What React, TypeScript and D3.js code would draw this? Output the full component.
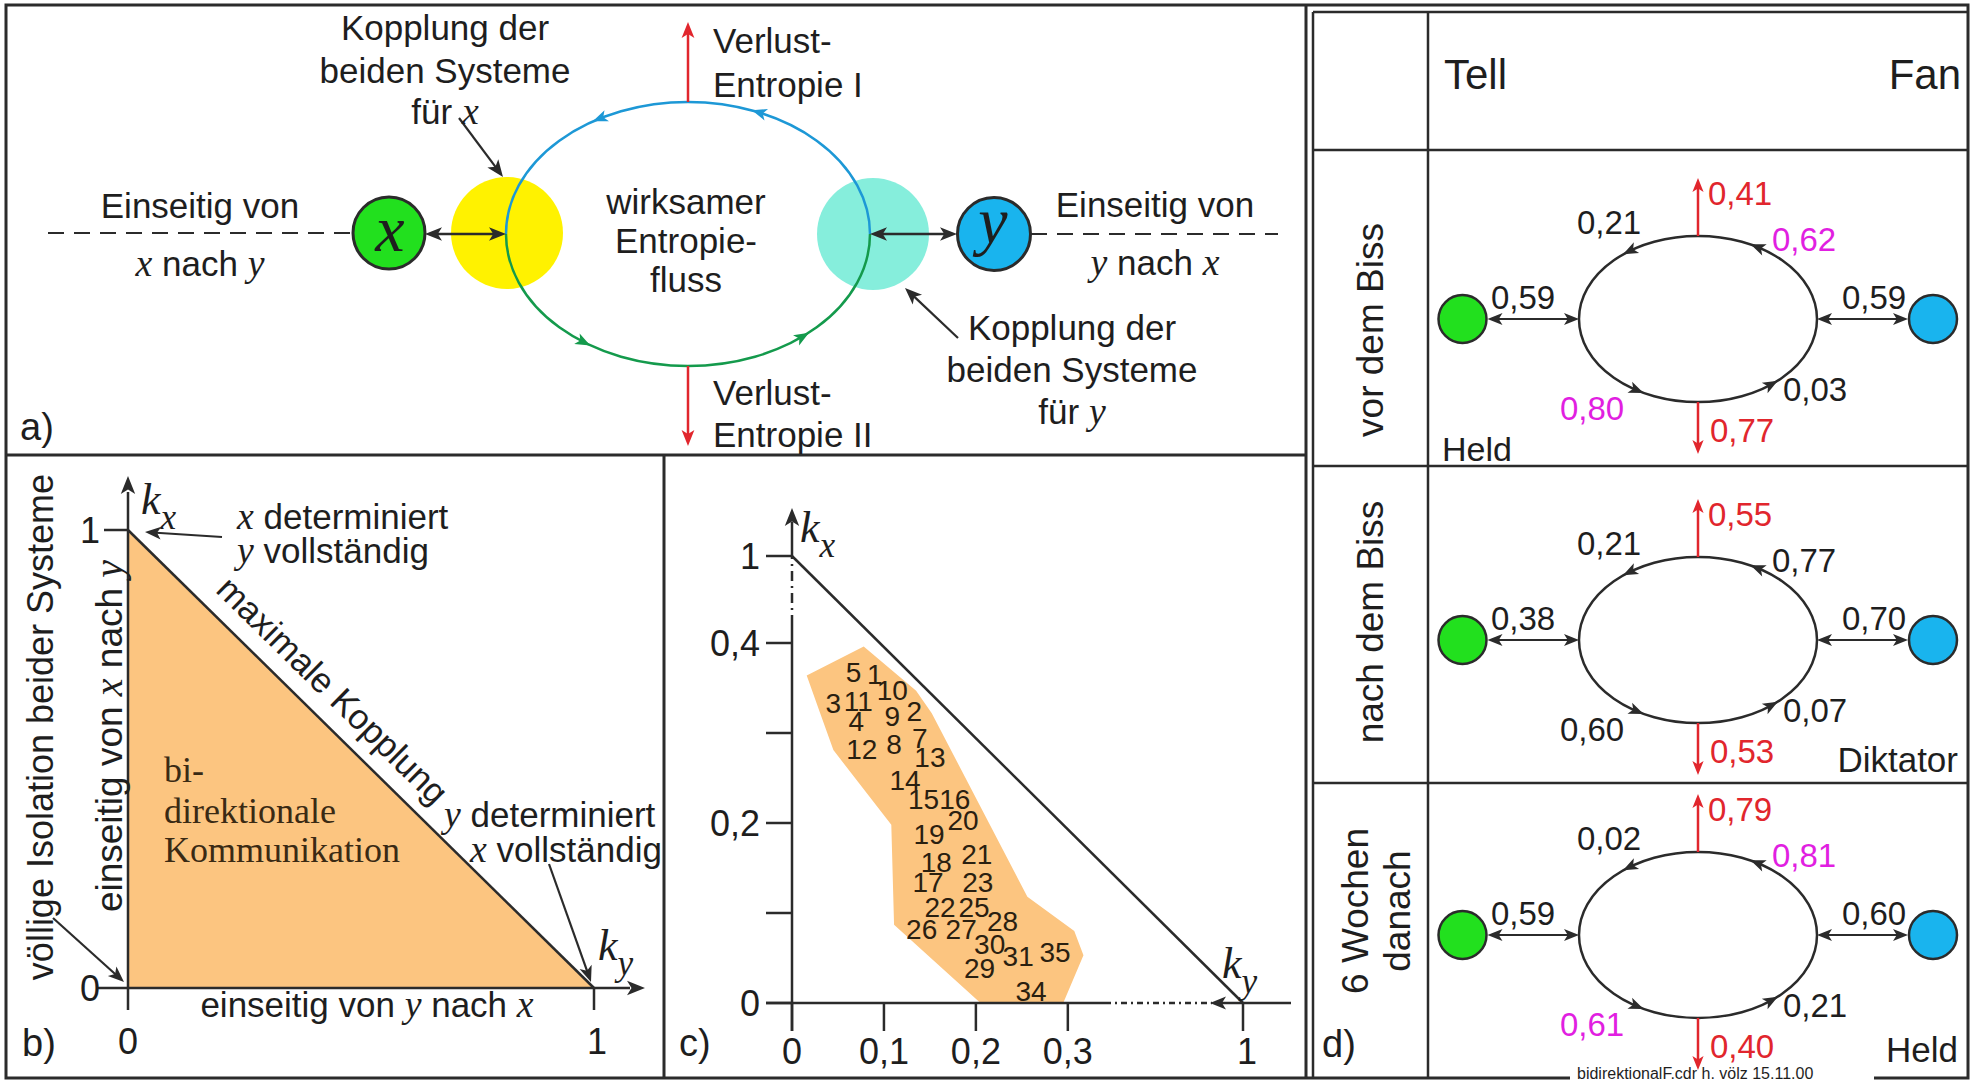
import * as d3 from 'd3';
import { useEffect, useRef } from 'react';

type Sel = d3.Selection<any, unknown, null, undefined>;

const WIDTH = 1973;
const HEIGHT = 1083;
const SANS = '"Liberation Sans", Arial, Helvetica, sans-serif';
const SERIF = '"Liberation Serif", "Times New Roman", serif';
const INK = '#1e1e1e';
const LINE = '#2b2b2b';
const ORANGE = '#fcc580';
const RED = '#e1262d';
const MAGENTA = '#e11fe1';
const GREEN = '#22e01e';
const BLUE = '#19b4ee';
const FS = 35;

// c) measured couples: ky (horizontal) and kx (vertical)
const pointIds = ['5', '1', '10', '3', '11', '9', '2', '4', '12', '8', '7', '13', '14', '15', '16', '20', '19', '21', '18', '17', '23', '22', '25', '28', '26', '27', '30', '31', '35', '29', '34'];
const pointKy = [0.067, 0.09, 0.109, 0.045, 0.072, 0.109, 0.133, 0.07, 0.076, 0.111, 0.139, 0.15, 0.123, 0.143, 0.177, 0.186, 0.149, 0.201, 0.157, 0.148, 0.202, 0.161, 0.198, 0.229, 0.141, 0.184, 0.215, 0.246, 0.286, 0.204, 0.26];
const pointKx = [0.368, 0.366, 0.348, 0.333, 0.336, 0.319, 0.324, 0.313, 0.282, 0.288, 0.294, 0.273, 0.248, 0.227, 0.227, 0.203, 0.188, 0.166, 0.157, 0.134, 0.135, 0.107, 0.107, 0.091, 0.082, 0.082, 0.066, 0.052, 0.057, 0.039, 0.013];

// c) outline of the region holding the measurements
const regionKy = [0.016, 0.078, 0.135, 0.152, 0.256, 0.307, 0.317, 0.295, 0.205, 0.111, 0.108, 0.045, 0.032];
const regionKx = [0.364, 0.396, 0.347, 0.322, 0.118, 0.08, 0.053, 0, 0, 0.087, 0.198, 0.281, 0.318];

const cTicksY = [0, 0.1, 0.2, 0.3, 0.4, 1];
const cLabelsY = [0, 0.2, 0.4, 1];
const cTicksX = [0, 0.1, 0.2, 0.3, 1];

// d) the three phases
const phaseLabels = [['vor dem Biss'], ['nach dem Biss'], ['6 Wochen', 'danach']];
const roleLabels = ['Held', 'Diktator', 'Held'];
const couplingTell = [0.59, 0.38, 0.59];
const couplingFan = [0.59, 0.7, 0.6];
const lossTop = [0.41, 0.55, 0.79];
const lossBottom = [0.77, 0.53, 0.4];
const flowTopLeft = [0.21, 0.21, 0.02];
const flowTopRight = [0.62, 0.77, 0.81];
const flowBottomLeft = [0.8, 0.6, 0.61];
const flowBottomRight = [0.03, 0.07, 0.21];
const highlighted = [true, false, true];

const locale = d3.formatLocale({ decimal: ',', thousands: '.', grouping: [3], currency: ['', ''] });
const fmt2 = locale.format('.2f');
const fmtTick = locale.format('~g');

function head(g: Sel, x: number, y: number, angle: number, size: number, color: string) {
  g.append('path')
    .attr('d', `M0,0L${-size},${-size * 0.4}L${-size * 0.75},0L${-size},${size * 0.4}Z`)
    .attr('transform', `translate(${x},${y}) rotate(${angle})`)
    .attr('fill', color);
}

function arrow(g: Sel, x1: number, y1: number, x2: number, y2: number, color = LINE, size = 16, both = false, width = 2.5) {
  const a = Math.atan2(y2 - y1, x2 - x1);
  const back = size * 0.7;
  g.append('line')
    .attr('x1', both ? x1 + Math.cos(a) * back : x1)
    .attr('y1', both ? y1 + Math.sin(a) * back : y1)
    .attr('x2', x2 - Math.cos(a) * back)
    .attr('y2', y2 - Math.sin(a) * back)
    .attr('stroke', color)
    .attr('stroke-width', width);
  head(g, x2, y2, (a * 180) / Math.PI, size, color);
  if (both) head(g, x1, y1, (a * 180) / Math.PI + 180, size, color);
}

function line(g: Sel, x1: number, y1: number, x2: number, y2: number, width = 2.5, dash?: string) {
  const l = g.append('line')
    .attr('x1', x1).attr('y1', y1).attr('x2', x2).attr('y2', y2)
    .attr('stroke', LINE).attr('stroke-width', width);
  if (dash) l.attr('stroke-dasharray', dash);
  return l;
}

type LabelOpts = { size?: number; anchor?: string; color?: string; rotate?: number; serif?: boolean };

// text with $...$ parts set as italic serif variables
function label(g: Sel, x: number, y: number, str: string, opts: LabelOpts = {}) {
  const size = opts.size ?? FS;
  const t = g.append('text')
    .attr('x', x).attr('y', y)
    .attr('font-family', opts.serif ? SERIF : SANS)
    .attr('font-size', size)
    .attr('text-anchor', opts.anchor ?? 'start')
    .attr('fill', opts.color ?? INK);
  if (opts.rotate) t.attr('transform', `rotate(${opts.rotate},${x},${y})`);
  str.split('$').forEach((part, i) => {
    if (!part) return;
    const s = t.append('tspan').text(part);
    if (i % 2 === 1) s.attr('font-family', SERIF).attr('font-style', 'italic').attr('font-size', size * 1.08);
  });
  return t;
}

function kLabel(g: Sel, x: number, y: number, sub: string, size = 44) {
  const t = g.append('text')
    .attr('x', x).attr('y', y)
    .attr('font-family', SERIF).attr('font-style', 'italic')
    .attr('font-size', size).attr('fill', INK);
  t.append('tspan').text('k');
  t.append('tspan').attr('dy', size * 0.35).attr('font-size', size * 0.8).text(sub);
}

function loop(g: Sel, cx: number, cy: number, rx: number, ry: number, top: string, bottom: string, headSize: number, angles: number[]) {
  g.append('path')
    .attr('d', `M${cx - rx},${cy}A${rx},${ry} 0 0 1 ${cx + rx},${cy}`)
    .attr('fill', 'none').attr('stroke', top).attr('stroke-width', 2.5);
  g.append('path')
    .attr('d', `M${cx + rx},${cy}A${rx},${ry} 0 0 1 ${cx - rx},${cy}`)
    .attr('fill', 'none').attr('stroke', bottom).attr('stroke-width', 2.5);
  angles.forEach((deg) => {
    const t = (deg * Math.PI) / 180;
    const a = Math.atan2(-ry * Math.cos(t), -rx * Math.sin(t));
    const x = cx + rx * Math.cos(t) + (Math.cos(a) * headSize) / 2;
    const y = cy - ry * Math.sin(t) + (Math.sin(a) * headSize) / 2;
    head(g, x, y, (a * 180) / Math.PI, headSize, Math.sin(t) >= 0 ? top : bottom);
  });
}

function drawFrame(svg: Sel) {
  const g = svg.append('g');
  g.append('rect')
    .attr('x', 6).attr('y', 5).attr('width', 1962).attr('height', 1073)
    .attr('fill', 'none').attr('stroke', LINE).attr('stroke-width', 3);
  line(g, 6, 455, 1306, 455, 3);
  line(g, 664, 455, 664, 1078, 3);
  line(g, 1306, 5, 1306, 1078, 3);
  line(g, 1313, 12, 1313, 1078, 2.5);
  line(g, 1313, 12, 1968, 12, 2.5);
  line(g, 1428, 12, 1428, 1078, 2.5);
  [150, 466, 783].forEach((y) => line(g, 1313, y, 1968, y, 2.5));
  g.append('rect').attr('x', 1570).attr('y', 1068).attr('width', 304).attr('height', 15).attr('fill', '#fff');
  label(g, 1577, 1079, 'bidirektionalF.cdr   h. völz   15.11.00', { size: 16 });
}

function drawA(svg: Sel) {
  const g = svg.append('g');
  const cx = 688;
  const cy = 234;
  const rx = 182;
  const ry = 132;
  line(g, 48, 233, 353, 233, 2.2, '16 10');
  line(g, 1031, 234, 1278, 234, 2.2, '16 10');
  g.append('circle').attr('cx', 507).attr('cy', 233).attr('r', 56).attr('fill', '#fff200');
  g.append('circle').attr('cx', 873).attr('cy', 234).attr('r', 56).attr('fill', '#86eedc');
  loop(g, cx, cy, rx, ry, '#1d98d6', '#149a4c', 15, [67, 119, 235, 309]);
  arrow(g, cx, cy - ry, cx, 22, RED, 16);
  arrow(g, cx, cy + ry, cx, 446, RED, 16);

  g.append('circle').attr('cx', 389).attr('cy', 233).attr('r', 36).attr('fill', GREEN).attr('stroke', LINE).attr('stroke-width', 3);
  label(g, 390, 251, 'x', { size: 66, anchor: 'middle', serif: true }).attr('font-style', 'italic');
  g.append('circle').attr('cx', 994).attr('cy', 234).attr('r', 36.5).attr('fill', BLUE).attr('stroke', LINE).attr('stroke-width', 3);
  label(g, 993, 243, 'y', { size: 66, anchor: 'middle', serif: true }).attr('font-style', 'italic');

  arrow(g, 425, 234, cx - rx, 234, LINE, 17, true);
  arrow(g, cx + rx, 234, 957, 234, LINE, 17, true);
  arrow(g, 459, 118, 503, 177, LINE, 17, false, 2.2);
  arrow(g, 958, 338, 905, 288, LINE, 17, false, 2.2);

  label(g, 445, 40, 'Kopplung der', { anchor: 'middle' });
  label(g, 445, 83, 'beiden Systeme', { anchor: 'middle' });
  label(g, 445, 124, 'für $x$', { anchor: 'middle' });
  label(g, 200, 218, 'Einseitig von', { anchor: 'middle' });
  label(g, 200, 276, '$x$ nach $y$', { anchor: 'middle' });
  label(g, 686, 214, 'wirksamer', { anchor: 'middle' });
  label(g, 686, 253, 'Entropie-', { anchor: 'middle' });
  label(g, 686, 292, 'fluss', { anchor: 'middle' });
  label(g, 713, 53, 'Verlust-');
  label(g, 713, 97, 'Entropie I');
  label(g, 713, 405, 'Verlust-');
  label(g, 713, 447, 'Entropie II');
  label(g, 1155, 217, 'Einseitig von', { anchor: 'middle' });
  label(g, 1155, 275, '$y$ nach $x$', { anchor: 'middle' });
  label(g, 1072, 340, 'Kopplung der', { anchor: 'middle' });
  label(g, 1072, 382, 'beiden Systeme', { anchor: 'middle' });
  label(g, 1072, 424, 'für $y$', { anchor: 'middle' });
  label(g, 20, 440, 'a)', { size: 38 });
}

function drawB(svg: Sel) {
  const g = svg.append('g');
  const x = d3.scaleLinear().domain([0, 1]).range([128, 594]);
  const y = d3.scaleLinear().domain([0, 1]).range([988, 530]);
  const tri = d3.line()([[x(0), y(1)], [x(0), y(0)], [x(1), y(0)]]) + 'Z';
  g.append('path').attr('d', tri).attr('fill', ORANGE);
  line(g, x(0), y(1), x(1), y(0), 2.5);

  line(g, x(0), y(0) + 22, x(0), 492, 2.5);
  head(g, x(0), 476, -90, 18, LINE);
  line(g, 98, y(0), 630, y(0), 2.5);
  head(g, 645, y(0), 0, 18, LINE);
  line(g, 104, y(1), x(0), y(1), 2.5);
  line(g, x(1), y(0), x(1), y(0) + 22, 2.5);

  label(g, 100, y(1) + 13, '1', { size: 36, anchor: 'end' });
  label(g, 100, y(0) + 13, '0', { size: 36, anchor: 'end' });
  label(g, x(0), 1054, '0', { size: 36, anchor: 'middle' });
  label(g, x(1) + 3, 1054, '1', { size: 36, anchor: 'middle' });
  label(g, 22, 1056, 'b)', { size: 38 });
  kLabel(g, 141, 514, 'x');
  kLabel(g, 598, 960, 'y');

  label(g, 237, 529, '$x$ determiniert');
  label(g, 237, 563, '$y$ vollständig');
  arrow(g, 222, 537, 145, 532, LINE, 16, false, 2.2);

  const t = 0.395;
  const px = x(0) + t * (x(1) - x(0)) + 12;
  const py = y(1) + t * (y(0) - y(1)) - 12;
  label(g, px, py, 'maximale Kopplung', { anchor: 'middle', rotate: 44.5 });

  label(g, 444, 827, '$y$ determiniert');
  label(g, 470, 862, '$x$ vollständig');
  arrow(g, 549, 864, 591, 982, LINE, 16, false, 2.2);

  label(g, 164, 782, 'bi-', { serif: true, size: 36, color: '#3a2a14' });
  label(g, 164, 823, 'direktionale', { serif: true, size: 36, color: '#3a2a14' });
  label(g, 164, 862, 'Kommunikation', { serif: true, size: 36, color: '#3a2a14' });

  label(g, 122, 736, 'einseitig von $x$ nach $y$', { anchor: 'middle', rotate: -90, size: 37 });
  label(g, 53, 727, 'völlige Isolation beider Systeme', { anchor: 'middle', rotate: -90, size: 36 });
  arrow(g, 53, 918, 124, 982, LINE, 16, false, 2.2);
  label(g, 367, 1017, 'einseitig von $y$ nach $x$', { anchor: 'middle' });
}

function drawC(svg: Sel) {
  const g = svg.append('g');
  const x = d3.scaleLinear().domain([0, 0.36, 1]).range([792, 1123, 1243]);
  const y = d3.scaleLinear().domain([0, 0.42, 1]).range([1003, 625, 556]);

  const region = regionKy.map((k, i) => [x(k), y(regionKx[i])] as [number, number]);
  g.append('path').attr('d', d3.line()(region) + 'Z').attr('fill', ORANGE);
  line(g, x(0), y(1), x(1), y(0), 2.5);

  // axes with scale breaks
  line(g, x(0), y(0) + 28, x(0), y(0.42), 2.5);
  line(g, x(0), y(0.42), x(0), 559, 2.5, '10 5 2 5');
  line(g, x(0), 559, x(0), 522, 2.5);
  head(g, x(0), 508, -90, 18, LINE);
  line(g, 766, y(0), 1105, y(0), 2.5);
  line(g, 1105, y(0), 1212, y(0), 2.5, '6 4 2 4');
  head(g, 1210, y(0), 180, 16, LINE);
  line(g, 1222, y(0), 1291, y(0), 2.5);

  cTicksY.forEach((v) => line(g, 766, y(v), x(0), y(v), 2.5));
  cTicksX.forEach((v) => line(g, x(v), y(0), x(v), y(0) + 28, 2.5));
  cLabelsY.forEach((v) => label(g, 760, y(v) + 13, fmtTick(v), { size: 36, anchor: 'end' }));
  cTicksX.forEach((v) => label(g, x(v) + (v === 1 ? 4 : 0), 1064, fmtTick(v), { size: 36, anchor: 'middle' }));

  pointIds.forEach((id, i) => {
    g.append('text')
      .attr('x', x(pointKy[i]))
      .attr('y', y(pointKx[i]))
      .attr('dy', '0.36em')
      .attr('text-anchor', 'middle')
      .attr('font-family', SANS)
      .attr('font-size', 28)
      .attr('fill', '#2a2010')
      .text(id);
  });

  kLabel(g, 800, 542, 'x');
  kLabel(g, 1222, 978, 'y');
  label(g, 679, 1056, 'c)', { size: 38 });
}

function drawD(svg: Sel) {
  const g = svg.append('g');
  const rowY = [319, 640, 935];
  const cx = 1698;
  const rx = 119;
  const ry = 83;
  const tell = 1462.5;
  const fan = 1933;

  label(g, 1444, 89, 'Tell', { size: 42 });
  label(g, 1961, 89, 'Fan', { size: 42, anchor: 'end' });

  rowY.forEach((cy, i) => {
    loop(g, cx, cy, rx, ry, LINE, LINE, 15, [125, 60, 239, 308]);
    arrow(g, cx, cy - ry, cx, cy - ry - 58, RED, 14);
    arrow(g, cx, cy + ry, cx, cy + ry + 52, RED, 14);
    g.append('circle').attr('cx', tell).attr('cy', cy).attr('r', 24).attr('fill', GREEN).attr('stroke', LINE).attr('stroke-width', 2.5);
    g.append('circle').attr('cx', fan).attr('cy', cy).attr('r', 24).attr('fill', BLUE).attr('stroke', LINE).attr('stroke-width', 2.5);
    arrow(g, tell + 25, cy, cx - rx, cy, LINE, 15, true, 2.2);
    arrow(g, cx + rx, cy, fan - 25, cy, LINE, 15, true, 2.2);

    const hi = highlighted[i] ? MAGENTA : INK;
    label(g, 1708, cy - 114, fmt2(lossTop[i]), { color: RED, size: 33 });
    label(g, 1577, cy - 85, fmt2(flowTopLeft[i]), { size: 33 });
    label(g, 1772, cy - 68, fmt2(flowTopRight[i]), { color: hi, size: 33 });
    label(g, 1491, cy - 10, fmt2(couplingTell[i]), { size: 33 });
    label(g, 1842, cy - 10, fmt2(couplingFan[i]), { size: 33 });
    label(g, 1783, cy + 82, fmt2(flowBottomRight[i]), { size: 33 });
    label(g, 1560, cy + 101, fmt2(flowBottomLeft[i]), { color: hi, size: 33 });
    label(g, 1710, cy + 123, fmt2(lossBottom[i]), { color: RED, size: 33 });

    if (i === 0) label(g, 1442, cy + 142, roleLabels[i], { size: 34 });
    else label(g, 1958, cy + (i === 1 ? 132 : 127), roleLabels[i], { size: 35, anchor: 'end' });
  });

  const phaseY = [330, 622, 911];
  phaseLabels.forEach((lines, i) => {
    lines.forEach((s, j) => {
      const bx = lines.length === 1 ? 1383 : 1368 + j * 42;
      label(g, bx, phaseY[i], s, { size: 37, anchor: 'middle', rotate: -90 });
    });
  });
  label(g, 1322, 1057, 'd)', { size: 38 });
}

export default function App() {
  const ref = useRef<SVGSVGElement>(null);

  useEffect(() => {
    const svg = d3.select(ref.current) as Sel;
    svg.selectAll('*').remove();
    drawFrame(svg);
    drawA(svg);
    drawB(svg);
    drawC(svg);
    drawD(svg);
  }, []);

  return (
    <svg
      ref={ref}
      width={WIDTH}
      height={HEIGHT}
      style={{ position: 'absolute', left: 0, top: 0, background: '#fff' }}
    />
  );
}
